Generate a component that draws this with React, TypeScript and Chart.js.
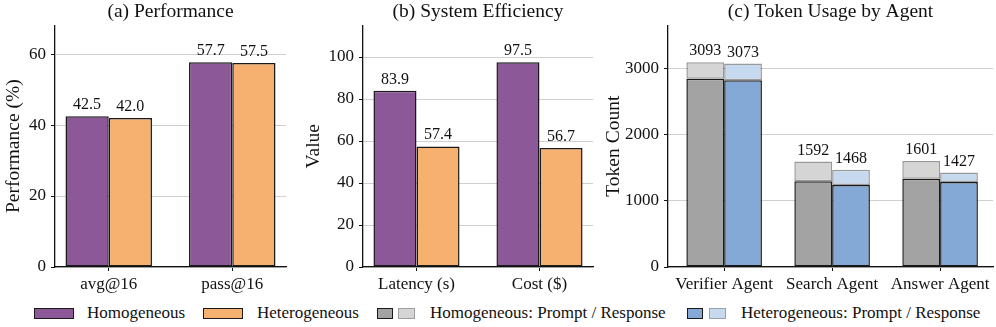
import React, { useEffect, useRef } from "react";
import { Chart, registerables } from "chart.js";

Chart.register(...registerables);

// ---- Data ----
const perfCategories = ["avg@16", "pass@16"];
const perfHomogeneous = [42.5, 57.7];
const perfHeterogeneous = [42.0, 57.5];

const effCategories = ["Latency (s)", "Cost ($)"];
const effHomogeneous = [83.9, 97.5];
const effHeterogeneous = [57.4, 56.7];

const agentCategories = ["Verifier Agent", "Search Agent", "Answer Agent"];
const homoPrompt = [2845, 1295, 1334];
const homoTotal = [3093, 1592, 1601];
const heteroPrompt = [2820, 1239, 1284];
const heteroTotal = [3073, 1468, 1427];

const perfTicks = [0, 20, 40, 60];
const effTicks = [0, 20, 40, 60, 80, 100];
const tokenTicks = [0, 1000, 2000, 3000];

// ---- Styles ----
const FONT = "'Liberation Serif', 'Times New Roman', serif";
const PURPLE = "#8c5898";
const ORANGE = "#f6b070";
const GRAY = "#a3a3a3";
const GRAY_LIGHT = "#d5d5d5";
const BLUE = "#84a9d7";
const BLUE_LIGHT = "#c7d9ee";
const EDGE = "#1a1a1a";
const EDGE_LIGHT = "rgba(0,0,0,0.4)";

const TITLE_SIZE = 19.5;
const TICK_SIZE = 17;
const LABEL_SIZE = 16;

type LabelSpec = { datasetIndex: number; values: number[]; digits: number };

const valueLabelPlugin = (specs: LabelSpec[]) => ({
  id: "valueLabels",
  afterDatasetsDraw(chart: any) {
    const ctx = chart.ctx;
    ctx.save();
    ctx.font = `${LABEL_SIZE}px ${FONT}`;
    ctx.fillStyle = "#111";
    ctx.textAlign = "center";
    ctx.textBaseline = "alphabetic";
    specs.forEach((s) => {
      const meta = chart.getDatasetMeta(s.datasetIndex);
      meta.data.forEach((el: any, i: number) => {
        ctx.fillText(s.values[i].toFixed(s.digits), el.x, el.y - 7);
      });
    });
    ctx.restore();
  },
});

function makeOptions(opts: {
  title: string;
  yTitle: string;
  yMax: number;
  yTicks: number[];
  xMin: number;
  xMax: number;
  cats: string[];
  yWidth: number;
  rightPad: number;
  stacked?: boolean;
}) {
  const y: any = {
    type: "linear",
    min: 0,
    max: opts.yMax,
    afterBuildTicks: (s: any) => {
      s.ticks = opts.yTicks.map((v) => ({ value: v }));
    },
    ticks: {
      color: "#111",
      font: { family: FONT, size: TICK_SIZE },
      padding: 5,
      callback: (v: any) => String(v),
    },
    grid: {
      color: "#d0d0d0",
      lineWidth: 1,
      borderDash: [5, 3],
      tickColor: "#111",
      tickLength: 4,
      tickBorderDash: [],
      tickWidth: 1,
    },
    border: { display: true, color: "#111", width: 1.3 },
    title: {
      display: true,
      text: opts.yTitle,
      color: "#111",
      font: { family: FONT, size: TITLE_SIZE },
      padding: { top: 2, bottom: 0 },
    },
    afterFit: (s: any) => {
      s.width = opts.yWidth;
    },
  };
  if (opts.stacked) y.stacked = true;
  return {
    responsive: false,
    animation: false as const,
    devicePixelRatio: 1,
    layout: { padding: { left: 0, right: opts.rightPad, top: 0, bottom: 0 } },
    plugins: {
      legend: { display: false },
      tooltip: { enabled: false },
      title: {
        display: true,
        text: opts.title,
        color: "#111",
        fullSize: false,
        font: { family: FONT, size: TITLE_SIZE, weight: "normal" as const, lineHeight: 1.2 },
        padding: { top: 0, bottom: 2 },
      },
    },
    scales: {
      x: {
        type: "linear",
        min: opts.xMin,
        max: opts.xMax,
        offset: false,
        afterBuildTicks: (s: any) => {
          s.ticks = opts.cats.map((_, i) => ({ value: i }));
        },
        ticks: {
          color: "#111",
          font: { family: FONT, size: TICK_SIZE },
          padding: 3,
          maxRotation: 0,
          autoSkip: false,
          callback: (v: any) => opts.cats[v] ?? "",
        },
        grid: {
          display: true,
          drawOnChartArea: false,
          drawTicks: true,
          tickLength: 4,
          color: "#111",
          offset: false,
        },
        border: { display: true, color: "#111", width: 1.3 },
        afterFit: (s: any) => {
          s.height = 33;
        },
      },
      y,
    },
  };
}

function useChart(ref: React.RefObject<HTMLCanvasElement>, build: () => any) {
  useEffect(() => {
    if (!ref.current) return;
    const chart = new Chart(ref.current, build());
    return () => chart.destroy();
  }, []);
}

const barBase = {
  borderWidth: 1.5,
  borderSkipped: false as const,
  categoryPercentage: 0.7,
  barPercentage: 1.0,
};

export default function App() {
  const refA = useRef<HTMLCanvasElement>(null);
  const refB = useRef<HTMLCanvasElement>(null);
  const refC = useRef<HTMLCanvasElement>(null);

  useEffect(() => {
    document.body.style.margin = "0";
  }, []);

  useChart(refA, () => ({
    type: "bar",
    data: {
      datasets: [
        {
          ...barBase,
          label: "Homogeneous",
          data: perfCategories.map((_, i) => ({ x: i, y: perfHomogeneous[i] })),
          backgroundColor: PURPLE,
          borderColor: EDGE,
        },
        {
          ...barBase,
          label: "Heterogeneous",
          data: perfCategories.map((_, i) => ({ x: i, y: perfHeterogeneous[i] })),
          backgroundColor: ORANGE,
          borderColor: EDGE,
        },
      ],
    },
    options: makeOptions({
      title: "(a) Performance",
      yTitle: "Performance (%)",
      yMax: Math.max(...perfHomogeneous, ...perfHeterogeneous) * 1.18,
      yTicks: perfTicks,
      xMin: -0.435,
      xMax: perfCategories.length - 1 + 0.435,
      cats: perfCategories,
      yWidth: 55,
      rightPad: 14,
    }),
    plugins: [
      valueLabelPlugin([
        { datasetIndex: 0, values: perfHomogeneous, digits: 1 },
        { datasetIndex: 1, values: perfHeterogeneous, digits: 1 },
      ]),
    ],
  }));

  useChart(refB, () => ({
    type: "bar",
    data: {
      datasets: [
        {
          ...barBase,
          label: "Homogeneous",
          data: effCategories.map((_, i) => ({ x: i, y: effHomogeneous[i] })),
          backgroundColor: PURPLE,
          borderColor: EDGE,
        },
        {
          ...barBase,
          label: "Heterogeneous",
          data: effCategories.map((_, i) => ({ x: i, y: effHeterogeneous[i] })),
          backgroundColor: ORANGE,
          borderColor: EDGE,
        },
      ],
    },
    options: makeOptions({
      title: "(b) System Efficiency",
      yTitle: "Value",
      yMax: Math.max(...effHomogeneous, ...effHeterogeneous) * 1.18,
      yTicks: effTicks,
      xMin: -0.435,
      xMax: effCategories.length - 1 + 0.435,
      cats: effCategories,
      yWidth: 63,
      rightPad: 7,
    }),
    plugins: [
      valueLabelPlugin([
        { datasetIndex: 0, values: effHomogeneous, digits: 1 },
        { datasetIndex: 1, values: effHeterogeneous, digits: 1 },
      ]),
    ],
  }));

  useChart(refC, () => ({
    type: "bar",
    data: {
      datasets: [
        {
          ...barBase,
          label: "Homogeneous: Prompt",
          stack: "homo",
          data: agentCategories.map((_, i) => ({ x: i, y: homoPrompt[i] })),
          backgroundColor: GRAY,
          borderColor: EDGE,
        },
        {
          ...barBase,
          label: "Homogeneous: Response",
          stack: "homo",
          data: agentCategories.map((_, i) => ({ x: i, y: homoTotal[i] - homoPrompt[i] })),
          backgroundColor: GRAY_LIGHT,
          borderColor: EDGE_LIGHT,
        },
        {
          ...barBase,
          label: "Heterogeneous: Prompt",
          stack: "hetero",
          data: agentCategories.map((_, i) => ({ x: i, y: heteroPrompt[i] })),
          backgroundColor: BLUE,
          borderColor: EDGE,
        },
        {
          ...barBase,
          label: "Heterogeneous: Response",
          stack: "hetero",
          data: agentCategories.map((_, i) => ({ x: i, y: heteroTotal[i] - heteroPrompt[i] })),
          backgroundColor: BLUE_LIGHT,
          borderColor: EDGE_LIGHT,
        },
      ],
    },
    options: makeOptions({
      title: "(c) Token Usage by Agent",
      yTitle: "Token Count",
      yMax: Math.max(...homoTotal, ...heteroTotal) * 1.18,
      yTicks: tokenTicks,
      xMin: -0.52,
      xMax: agentCategories.length - 1 + 0.49,
      cats: agentCategories,
      yWidth: 68,
      rightPad: 3,
      stacked: true,
    }),
    plugins: [
      valueLabelPlugin([
        { datasetIndex: 1, values: homoTotal, digits: 0 },
        { datasetIndex: 3, values: heteroTotal, digits: 0 },
      ]),
    ],
  }));

  const legendText: React.CSSProperties = {
    position: "absolute",
    top: 303,
    fontFamily: FONT,
    fontSize: 17,
    lineHeight: "20px",
    color: "#111",
    whiteSpace: "nowrap",
  };
  const sw = (left: number, width: number, bg: string, border: string): React.CSSProperties => ({
    position: "absolute",
    left,
    top: 308,
    width,
    height: 11,
    background: bg,
    border: `1.5px solid ${border}`,
    boxSizing: "border-box",
  });

  return (
    <div style={{ position: "absolute", left: 0, top: 0, width: 996, height: 327, background: "#fff", overflow: "hidden" }}>
      <canvas ref={refA} width={300} height={300} style={{ position: "absolute", left: 0, top: 0, width: 300, height: 300 }} />
      <canvas ref={refB} width={300} height={300} style={{ position: "absolute", left: 300, top: 0, width: 300, height: 300 }} />
      <canvas ref={refC} width={396} height={300} style={{ position: "absolute", left: 600, top: 0, width: 396, height: 300 }} />

      <div style={sw(34, 40, PURPLE, EDGE)} />
      <span style={{ ...legendText, left: 87 }}>Homogeneous</span>
      <div style={sw(203, 40, ORANGE, EDGE)} />
      <span style={{ ...legendText, left: 257 }}>Heterogeneous</span>
      <div style={sw(377, 16, GRAY, EDGE)} />
      <div style={sw(398, 17, GRAY_LIGHT, "rgba(0,0,0,0.25)")} />
      <span style={{ ...legendText, left: 430 }}>Homogeneous: Prompt / Response</span>
      <div style={sw(687, 16, BLUE, EDGE)} />
      <div style={sw(709, 17, BLUE_LIGHT, "rgba(0,0,0,0.25)")} />
      <span style={{ ...legendText, left: 741 }}>Heterogeneous: Prompt / Response</span>
    </div>
  );
}
